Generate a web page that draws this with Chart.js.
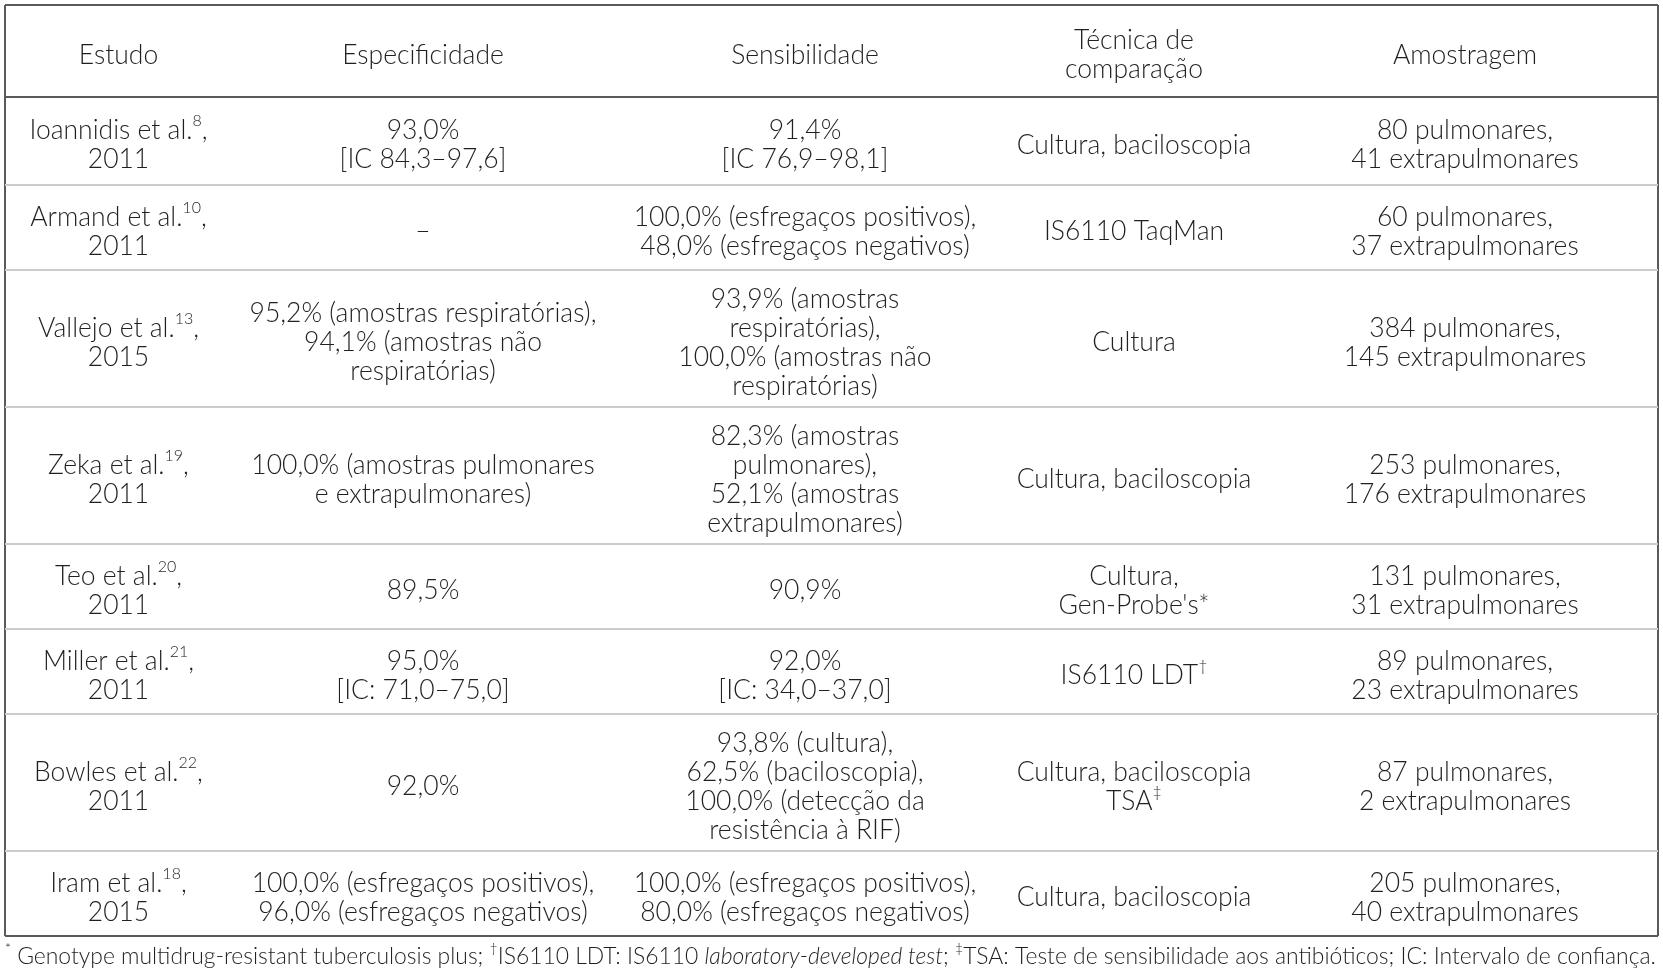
<!DOCTYPE html>
<html>
<head>
<meta charset="utf-8">
<script src="https://cdn.jsdelivr.net/npm/chart.js@4.4.0/dist/chart.umd.min.js"></script>
<style>
  html, body { margin: 0; padding: 0; background: #fff; }
</style>
</head>
<body>
<canvas id="tabela" width="1663" height="977"></canvas>
<script>
// table content (^{..} = superscript, ~{..} = italic, \n = line break)
var colunas = ["Estudo", "Especificidade", "Sensibilidade", "Técnica de\ncomparação", "Amostragem"];
var estudos = [
  "Ioannidis et al.^{8},\n2011",
  "Armand et al.^{10},\n2011",
  "Vallejo et al.^{13},\n2015",
  "Zeka et al.^{19},\n2011",
  "Teo et al.^{20},\n2011",
  "Miller et al.^{21},\n2011",
  "Bowles et al.^{22},\n2011",
  "Iram et al.^{18},\n2015"
];
var especificidade = [
  "93,0%\n[IC 84,3–97,6]",
  "–",
  "95,2% (amostras respiratórias),\n94,1% (amostras não\nrespiratórias)",
  "100,0% (amostras pulmonares\ne extrapulmonares)",
  "89,5%",
  "95,0%\n[IC: 71,0–75,0]",
  "92,0%",
  "100,0% (esfregaços positivos),\n96,0% (esfregaços negativos)"
];
var sensibilidade = [
  "91,4%\n[IC 76,9–98,1]",
  "100,0% (esfregaços positivos),\n48,0% (esfregaços negativos)",
  "93,9% (amostras\nrespiratórias),\n100,0% (amostras não\nrespiratórias)",
  "82,3% (amostras\npulmonares),\n52,1% (amostras\nextrapulmonares)",
  "90,9%",
  "92,0%\n[IC: 34,0–37,0]",
  "93,8% (cultura),\n62,5% (baciloscopia),\n100,0% (detecção da\nresistência à RIF)",
  "100,0% (esfregaços positivos),\n80,0% (esfregaços negativos)"
];
var tecnica = [
  "Cultura, baciloscopia",
  "IS6110 TaqMan",
  "Cultura",
  "Cultura, baciloscopia",
  "Cultura,\nGen-Probe's*",
  "IS6110 LDT^{†}",
  "Cultura, baciloscopia\nTSA^{‡}",
  "Cultura, baciloscopia"
];
var amostragem = [
  "80 pulmonares,\n41 extrapulmonares",
  "60 pulmonares,\n37 extrapulmonares",
  "384 pulmonares,\n145 extrapulmonares",
  "253 pulmonares,\n176 extrapulmonares",
  "131 pulmonares,\n31 extrapulmonares",
  "89 pulmonares,\n23 extrapulmonares",
  "87 pulmonares,\n2 extrapulmonares",
  "205 pulmonares,\n40 extrapulmonares"
];
var rodape = "^{*} Genotype multidrug-resistant tuberculosis plus; ^{†}IS6110 LDT: IS6110 ~{laboratory-developed test}; ^{‡}TSA: Teste de sensibilidade aos antibióticos; IC: Intervalo de confiança.";

// layout
var larguras = [227, 382, 382, 276, 386];
var FONTE = "Lato";
var TAM = 26.5, TAM_ROD = 22.9, ENTRE = 29, DESCE = 4;

var corpo = estudos.map(function (e, i) {
  return [e, especificidade[i], sensibilidade[i], tecnica[i], amostragem[i]];
});
var linhas = [colunas].concat(corpo);

// row boundaries from number of text lines
var limites = [0];
linhas.forEach(function (l, i) {
  var n = Math.max.apply(null, l.map(function (c) { return c.split("\n").length; }));
  var h = 33 + 26 * n + (i === 0 ? 7 : 0) + (i === 1 ? 3 : 0);
  limites.push(limites[limites.length - 1] + h);
});
var totalH = limites[limites.length - 1];
var inicioCol = [0];
larguras.forEach(function (w) { inicioCol.push(inicioCol[inicioCol.length - 1] + w); });
var totalW = inicioCol[inicioCol.length - 1];

function partes(txt) {
  var out = [], re = /(\^\{[^}]*\}|~\{[^}]*\})/g, last = 0, m;
  while ((m = re.exec(txt)) !== null) {
    if (m.index > last) out.push({ t: txt.slice(last, m.index), s: "n" });
    out.push({ t: m[0].slice(2, -1), s: m[0][0] === "^" ? "sup" : "it" });
    last = re.lastIndex;
  }
  if (last < txt.length) out.push({ t: txt.slice(last), s: "n" });
  return out;
}

function fonte(s, tam) {
  if (s === "sup") return "300 " + Math.round(tam * 0.6) + "px " + FONTE;
  if (s === "it") return "italic 300 " + tam + "px " + FONTE;
  return "300 " + tam + "px " + FONTE;
}

function linhaTexto(ctx, txt, x, y, tam, alinha) {
  var p = partes(txt), w = 0;
  p.forEach(function (q) { ctx.font = fonte(q.s, tam); q.w = ctx.measureText(q.t).width; w += q.w; });
  var cx = alinha === "left" ? x : x - w / 2;
  p.forEach(function (q) {
    ctx.font = fonte(q.s, tam);
    ctx.fillText(q.t, cx, q.s === "sup" ? y - tam * 0.36 : y);
    cx += q.w;
  });
}

var textoTabela = {
  id: "textoTabela",
  afterDraw: function (chart) {
    var ctx = chart.ctx, xs = chart.scales.x, ys = chart.scales.y;
    ctx.save();
    ctx.fillStyle = "#231f20";
    ctx.textBaseline = "middle";
    ctx.textAlign = "left";
    linhas.forEach(function (l, i) {
      var cy = ys.getPixelForValue((limites[i] + limites[i + 1]) / 2) + DESCE;
      l.forEach(function (c, j) {
        var cx = xs.getPixelForValue(inicioCol[j] + larguras[j] / 2);
        var ls = c.split("\n");
        ls.forEach(function (t, k) {
          linhaTexto(ctx, t, cx, cy + (k - (ls.length - 1) / 2) * ENTRE, TAM, "center");
        });
      });
    });
    linhaTexto(ctx, rodape, chart.chartArea.left, chart.chartArea.bottom + 21, TAM_ROD, "left");
    ctx.restore();
  }
};

new Chart("tabela", {
  type: "scatter",
  data: { datasets: [] },
  plugins: [textoTabela],
  options: {
    responsive: false,
    animation: false,
    devicePixelRatio: 1,
    layout: { padding: { left: 5, right: 5, top: 5, bottom: 41 } },
    plugins: { legend: { display: false }, tooltip: { enabled: false } },
    scales: {
      x: {
        type: "linear", min: 0, max: totalW,
        ticks: { display: false },
        border: { display: false },
        grid: { drawTicks: false, color: "#5a5a5a", lineWidth: 2 },
        afterBuildTicks: function (s) { s.ticks = [{ value: 0 }, { value: totalW }]; }
      },
      y: {
        type: "linear", min: 0, max: totalH, reverse: true,
        ticks: { display: false },
        border: { display: false },
        grid: {
          drawTicks: false,
          color: function (c) {
            var v = c.tick.value;
            return (v === 0 || v === totalH || v === limites[1]) ? "#5a5a5a" : "#cccccc";
          },
          lineWidth: 2
        },
        afterBuildTicks: function (s) { s.ticks = limites.map(function (v) { return { value: v }; }); }
      }
    }
  }
});
</script>
</body>
</html>
